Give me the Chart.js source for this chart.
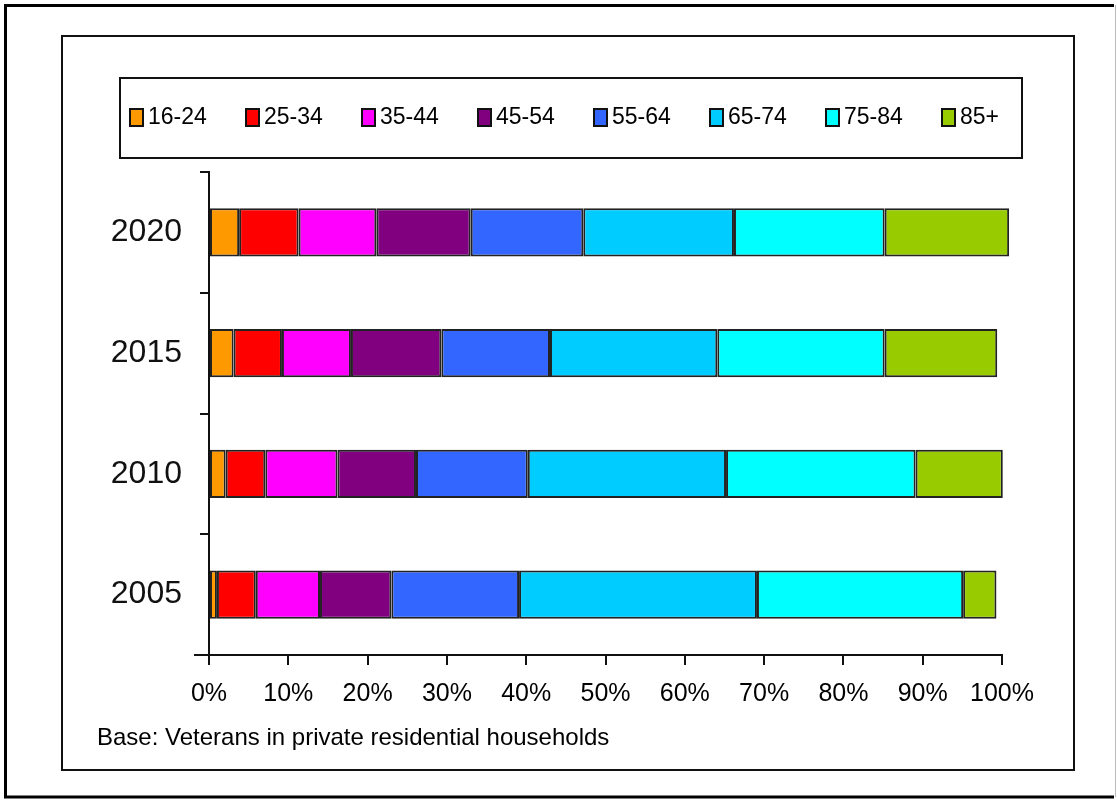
<!DOCTYPE html>
<html>
<head>
<meta charset="utf-8">
<script src="https://cdn.jsdelivr.net/npm/chart.js@4/dist/chart.umd.min.js"></script>
<style>
  html, body { margin: 0; padding: 0; background: #fff; }
  #wrap { position: relative; width: 1117px; height: 802px; }
</style>
</head>
<body>
<div id="wrap"><canvas id="myChart" width="1117" height="802"></canvas></div>
<script>
// years, top to bottom
const years = ['2020', '2015', '2010', '2005'];
const ageGroups = ['16-24', '25-34', '35-44', '45-54', '55-64', '65-74', '75-84', '85+'];
const groupColors = ['#FF9900', '#FF0000', '#FF00FF', '#800080', '#3366FF', '#00CCFF', '#00FFFF', '#99CC00'];

// share of veterans (%) per age group, in the order of years
const age16_24 = [3.8, 3.1, 2.1, 1.0];
const age25_34 = [7.5, 6.1, 5.0, 4.9];
const age35_44 = [9.8, 8.7, 9.1, 8.1];
const age45_54 = [11.9, 11.4, 9.9, 9.0];
const age55_64 = [14.2, 13.7, 14.1, 16.1];
const age65_74 = [19.0, 21.1, 25.0, 30.0];
const age75_84 = [19.0, 21.1, 23.9, 26.0];
const age85plus = [15.7, 14.2, 11.0, 4.2];
const seriesValues = [age16_24, age25_34, age35_44, age45_54, age55_64, age65_74, age75_84, age85plus];

const xTicks = [0, 10, 20, 30, 40, 50, 60, 70, 80, 90, 100];
const footnote = 'Base: Veterans in private residential households';

const FONT = '"Liberation Sans", Arial, sans-serif';

// frames, legend box and footnote
const decorations = {
  id: 'decorations',
  beforeDraw(chart) {
    const c = chart.ctx;
    c.save();
    c.fillStyle = '#fff';
    c.fillRect(0, 0, chart.width, chart.height);
    c.strokeStyle = '#000';
    // outer frame
    c.lineWidth = 3;
    c.beginPath();
    c.moveTo(1114, 5.5); c.lineTo(5.5, 5.5); c.lineTo(5.5, 797); c.lineTo(1114, 797);
    c.stroke();
    c.lineWidth = 1;
    c.strokeStyle = '#bbb';
    c.beginPath(); c.moveTo(1115.5, 5); c.lineTo(1115.5, 797); c.stroke();
    // inner frame
    c.strokeStyle = '#111';
    c.lineWidth = 2;
    c.strokeRect(62, 36, 1012, 734);
    // legend box
    c.strokeRect(120, 78, 902, 80);
    c.restore();
  },
  afterDraw(chart) {
    const c = chart.ctx;
    c.save();
    // legend items
    c.font = '23px ' + FONT;
    c.textBaseline = 'middle';
    c.textAlign = 'left';
    chart.data.datasets.forEach((ds, i) => {
      const x = 130 + i * 116;
      c.fillStyle = ds.backgroundColor;
      c.fillRect(x, 109, 13, 17);
      c.strokeStyle = '#111';
      c.lineWidth = 2;
      c.strokeRect(x, 109, 13, 17);
      c.fillStyle = '#000';
      c.fillText(ds.label, x + 18, 118);
    });
    // x axis line stub left of the y axis
    const xs = chart.scales.x, ys = chart.scales.y;
    c.strokeStyle = '#111';
    c.lineWidth = 2;
    c.beginPath(); c.moveTo(194, ys.bottom); c.lineTo(xs.left, ys.bottom); c.stroke();
    // footnote
    c.font = '24px ' + FONT;
    c.fillStyle = '#000';
    c.textBaseline = 'middle';
    c.fillText(footnote, 97, 738);
    c.restore();
  }
};

const ctx = document.getElementById('myChart').getContext('2d');
new Chart(ctx, {
  type: 'bar',
  data: {
    labels: years,
    datasets: ageGroups.map((g, i) => ({
      label: g,
      data: seriesValues[i],
      backgroundColor: groupColors[i],
      borderColor: '#222',
      borderWidth: 2,
      borderSkipped: false,
      barPercentage: 0.4,
      categoryPercentage: 1.0,
      clip: false
    }))
  },
  options: {
    indexAxis: 'y',
    responsive: false,
    animation: false,
    layout: { padding: { top: 172, left: 89, right: 115, bottom: 97 } },
    plugins: { legend: { display: false }, tooltip: { enabled: false } },
    scales: {
      x: {
        stacked: true,
        min: 0,
        max: 100,
        afterBuildTicks(scale) { scale.ticks = xTicks.map(v => ({ value: v })); },
        afterFit(scale) { scale.height = 50; },
        grid: { drawOnChartArea: false, tickLength: 10, color: '#111', lineWidth: 2 },
        border: { color: '#111', width: 2 },
        ticks: {
          color: '#000',
          padding: 14,
          font: { family: FONT, size: 25 },
          maxRotation: 0,
          callback: v => v + '%'
        }
      },
      y: {
        stacked: true,
        afterFit(scale) { scale.width = 120; },
        grid: { drawOnChartArea: false, offset: true, tickLength: 9, color: '#111', lineWidth: 2 },
        border: { color: '#111', width: 2 },
        ticks: { color: '#111', padding: 18, font: { family: FONT, size: 32 } }
      }
    }
  },
  plugins: [decorations]
});
</script>
</body>
</html>
